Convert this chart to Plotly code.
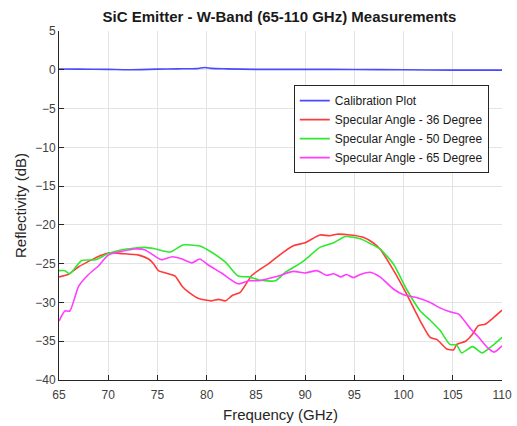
import plotly.graph_objects as go

# ---- data ----
cal_x = [65, 67, 70, 72, 75, 77, 79, 79.8, 80.5, 82, 85, 88, 90, 95, 100, 105, 110]
cal_y = [0.1, 0.08, 0.05, 0.0, 0.08, 0.12, 0.15, 0.3, 0.18, 0.12, 0.05, 0.05, 0.05, 0.04, 0.0, -0.04, -0.05]

r36_x = [65, 65.9, 67, 68, 69.3, 70.2, 71.4, 73.1, 74.1, 74.6, 75.1, 76.1, 76.8, 77.5, 78.2, 79.2,
         80.5, 81.2, 81.9, 82.6, 83.4, 84.6, 86.3, 87.5, 88.8, 90, 91.5, 92.5, 93.2, 94.6, 95.9,
         96.9, 97.6, 99, 100.3, 101.7, 102.7, 103.4, 104.4, 105.1, 105.4, 106.3, 107, 107.6,
         108.3, 109.2, 110]
r36_y = [-26.7, -26.4, -25.4, -24.7, -23.9, -23.6, -23.7, -23.9, -24.4, -25.0, -25.9, -26.3, -26.6,
         -27.9, -28.7, -29.5, -29.8, -29.6, -29.8, -29.1, -28.7, -26.5, -25.0, -23.8, -22.7, -22.3,
         -21.3, -21.4, -21.2, -21.3, -21.6, -22.3, -23.1, -25.9, -28.9, -32.4, -34.5, -34.8,
         -36.0, -36.1, -35.4, -35.0, -34.1, -33.0, -32.8, -31.9, -31.0]

g50_x = [65, 65.6, 66.1, 67.3, 68.7, 70, 71.4, 73.7, 74.8, 76.3, 77.6, 79.2, 80.2, 81.9, 83.2,
         84.3, 85.3, 87, 88, 88.8, 90, 91.5, 92.9, 94.1, 95.6, 96.6, 97.6, 99, 100.3, 101.7,
         102.7, 103.7, 104.7, 105.4, 105.9, 107, 108, 109, 110]
g50_y = [-25.9, -25.9, -26.3, -24.6, -24.5, -23.7, -23.2, -22.9, -23.1, -23.5, -22.6, -22.7, -23.3,
         -24.8, -26.6, -26.7, -27.1, -27.2, -26.1, -25.5, -24.5, -22.9, -22.3, -21.5, -21.8, -22.4,
         -23.1, -25.1, -28.3, -31.1, -32.3, -33.6, -35.4, -35.5, -36.5, -35.7, -36.5, -35.6, -34.5]

m65_x = [65, 65.6, 66.1, 67, 68, 69, 70, 71.4, 72.7, 73.7, 75.4, 76.5, 77.5, 78.5, 79.3, 80.2,
         81.5, 83.2, 84.3, 85.3, 87, 88.8, 90, 91.2, 92.2, 92.9, 93.6, 94.2, 94.9, 95.6, 96.6,
         97.6, 99, 100, 101.4, 102.7, 103.7, 104.7, 105.6, 106.8, 107.5, 108.5, 109.2, 110]
m65_y = [-32.4, -31.1, -31.1, -27.9, -26.4, -25.3, -23.9, -23.4, -23.1, -23.2, -24.5, -24.1, -24.4,
         -24.9, -24.4, -25.2, -26.2, -27.6, -27.2, -27.2, -26.7, -26.0, -26.2, -25.9, -26.5, -26.3,
         -26.7, -26.4, -26.8, -26.4, -26.1, -26.7, -28.3, -29.0, -29.4, -30.0, -30.7, -31.2, -31.5,
         -33.4, -34.3, -35.8, -36.4, -35.6]

names = ["Calibration Plot", "Specular Angle - 36 Degree",
         "Specular Angle - 50 Degree", "Specular Angle - 65 Degree"]
colors = ["#4a4aff", "#ff3a3a", "#2fe82f", "#ff3cff"]

FONT = "Liberation Sans, Arial, Helvetica, sans-serif"
TXT = "#262626"

fig = go.Figure()
for xs, ys, nm, c in [(cal_x, cal_y, names[0], colors[0]),
                      (r36_x, r36_y, names[1], colors[1]),
                      (g50_x, g50_y, names[2], colors[2]),
                      (m65_x, m65_y, names[3], colors[3])]:
    fig.add_trace(go.Scatter(x=xs, y=ys, name=nm, mode="lines",
                             line=dict(color=c, width=1.6, shape="spline", smoothing=0.6)))

axis_common = dict(showgrid=True, gridcolor="#e3e3e3", gridwidth=1,
                   showline=True, linecolor=TXT, linewidth=1, mirror=False,
                   ticks="inside", ticklen=5, tickcolor=TXT, tickwidth=1,
                   zeroline=False, automargin=False,
                   tickfont=dict(family=FONT, size=12, color="#404040"))

fig.update_layout(
    width=517, height=426,
    margin=dict(l=59, r=15, t=31, b=46, autoexpand=False),
    paper_bgcolor="white", plot_bgcolor="white",
    font=dict(family=FONT, color=TXT),
    title=dict(text="<b>SiC Emitter - W-Band (65-110 GHz) Measurements</b>",
               x=0.5405, xanchor="center", y=0.96, yanchor="middle",
               font=dict(family=FONT, size=15, color="#1a1a1a")),
    xaxis=dict(range=[65, 110], dtick=5, tick0=65,
               title=dict(text="Frequency (GHz)", font=dict(family=FONT, size=15, color=TXT), standoff=8),
               ticklabelstandoff=4, **axis_common),
    yaxis=dict(range=[-40, 5], dtick=5, tick0=-40,
               title=dict(text="Reflectivity (dB)", font=dict(family=FONT, size=15, color=TXT), standoff=4),
               **axis_common),
    legend=dict(x=0.53, y=0.845, xanchor="left", yanchor="top",
                bgcolor="white", bordercolor=TXT, borderwidth=1,
                font=dict(family=FONT, size=12, color="#1a1a1a"),
                tracegroupgap=0, itemwidth=30),
    showlegend=True,
)

fig.write_html("out.html")
